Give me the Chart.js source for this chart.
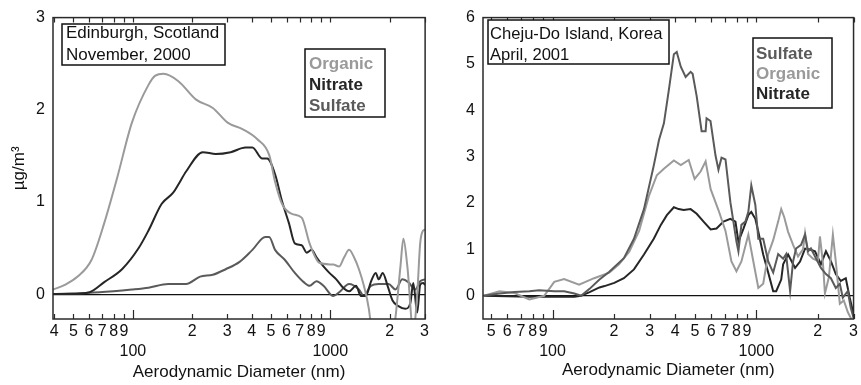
<!DOCTYPE html>
<html>
<head>
<meta charset="utf-8">
<script src="https://cdn.jsdelivr.net/npm/chart.js@4"></script>
<style>
  body { margin: 0; background: #fff; }
  .panel { position: absolute; top: 0; height: 385px; }
</style>
</head>
<body>
<div class="panel" style="left:0;width:432px"><canvas id="edinChart"></canvas></div>
<div class="panel" style="left:431px;width:430px"><canvas id="chejuChart"></canvas></div>
<script>
// ---------------- DATA (diameter in nm, mass in ug/m3) ----------------
// Edinburgh, November 2000
var edinOrganicD = [39.4, 45.2, 52.5, 61.7, 71.6, 83.2, 98.9, 120, 130, 143, 170, 209, 254, 302, 359, 427, 490, 525, 569, 638,
                    716, 785, 881, 1035, 1109, 1175, 1245, 1318, 1396, 1479, 1567, 1660, 1905, 2138, 2265, 2344, 2455, 2630, 2754, 2851, 2951, 3020];
var edinOrganic  = [0.05, 0.10, 0.19, 0.37, 0.77, 1.26, 1.86, 2.27, 2.37, 2.39, 2.31, 2.11, 2.02, 1.86, 1.79, 1.68, 1.51, 1.22, 0.98, 0.87,
                    0.83, 0.55, 0.34, 0.32, 0.30, 0.40, 0.48, 0.40, 0.27, 0.09, -0.16, -0.6, -0.9, -0.25, 0.3, 0.6, 0.3, -0.4, 0.0, 0.55, 0.69, 0.7];

var edinNitrateD = [39.4, 47.9, 60.3, 71.6, 88.1, 107, 120, 140, 160, 170, 186, 226, 263, 313, 372, 403, 452, 479, 525, 569,
                    617, 661, 716, 759, 804, 851, 923, 989, 1072, 1161, 1245, 1349, 1429, 1514, 1603, 1698, 1758, 1841, 1950, 2065,
                    2213, 2399, 2541, 2630, 2754, 2851, 2951, 3020];
var edinNitrate  = [0.0, 0.0, 0.02, 0.13, 0.27, 0.50, 0.69, 0.98, 1.10, 1.19, 1.33, 1.54, 1.52, 1.54, 1.59, 1.59, 1.47, 1.47, 1.30, 1.01,
                    0.77, 0.55, 0.53, 0.45, 0.48, 0.40, 0.30, 0.23, 0.16, 0.07, 0.03, 0.09, -0.02, -0.02, 0.13, 0.23, 0.16, 0.23, 0.09, -0.07,
                    -0.13, -0.16, -0.10, 0.12, -0.20, 0.10, 0.12, 0.10];

var edinSulfateD = [39.4, 67.6, 98.9, 120, 151, 186, 219, 254, 295, 347, 403, 468, 490, 525, 589, 661, 733, 785, 851, 923,
                    1035, 1109, 1245, 1396, 1479, 1603, 1758, 1972, 2138, 2317, 2483, 2692, 2851, 3020];
var edinSulfate  = [0.0, 0.02, 0.05, 0.07, 0.11, 0.11, 0.19, 0.21, 0.27, 0.35, 0.48, 0.62, 0.62, 0.48, 0.37, 0.23, 0.13, 0.09, 0.14, 0.09,
                    -0.02, 0.02, 0.11, 0.05, -0.02, 0.09, 0.11, 0.11, 0.05, 0.16, 0.13, 0.05, 0.14, 0.16];

// Cheju-Do Island, April 2001
var chejuSulfateD = [46, 55, 65, 77, 86, 102, 114, 128, 138, 152, 170, 190, 224, 251, 281, 314, 333, 352, 372, 394,
                     407, 426, 450, 476, 487, 510, 539, 564, 570, 596, 631, 652, 675, 706, 746, 772, 799, 817, 845, 884,
                     914, 945, 989, 1023, 1081, 1144, 1210, 1280, 1354, 1400, 1465, 1515, 1567, 1658, 1734, 1794, 1854, 1962, 2075, 2196,
                     2322, 2455, 2569, 2657, 2811, 2906, 3000];
var chejuSulfate  = [0.0, 0.05, 0.08, 0.1, 0.12, 0.1, 0.1, 0.05, 0.0, 0.15, 0.35, 0.52, 0.81, 1.23, 1.87, 2.81, 3.36, 3.72, 4.43, 5.21,
                     5.26, 4.94, 4.72, 4.83, 4.79, 4.3, 3.55, 3.55, 3.83, 3.77, 3.02, 2.72, 2.98, 2.94, 2.02, 1.6, 1.17, 0.96, 1.53, 1.6,
                     1.81, 2.38, 1.96, 1.23, 1.23, 0.74, 0.5, 0.9, 0.8, 0.9, 0.1, 0.74, 1.02, 1.1, 1.32, 0.96, 1.02, 0.81, 0.6, 0.47,
                     0.38, 0.17, 0.26, -0.04, 0.1, -0.26, -0.47];

var chejuOrganicD = [46, 55, 65, 77, 91, 102, 114, 135, 160, 190, 212, 238, 266, 297, 325, 352, 394, 426, 466, 498,
                     533, 564, 597, 652, 706, 755, 799, 845, 914, 967, 1023, 1081, 1144, 1210, 1280, 1325, 1370, 1432, 1515, 1603,
                     1695, 1734, 1794, 1897, 2006, 2052, 2123, 2171, 2270, 2375, 2455, 2569, 2687, 2811, 3000];
var chejuOrganic  = [0.0, 0.1, 0.06, -0.08, 0.0, 0.3, 0.36, 0.24, 0.38, 0.5, 0.68, 0.95, 1.4, 2.15, 2.6, 2.74, 2.92, 2.82, 2.93, 2.52,
                     2.68, 2.9, 2.3, 1.85, 1.4, 0.74, 0.53, 0.74, 1.32, 0.74, 0.17, 0.26, 0.9, 1.2, 1.6, 1.87, 1.7, 1.38, 1.1, 0.85,
                     1.0, 1.35, 0.9, 0.8, 0.75, 1.28, 0.7, 0.05, 0.4, 1.32, 0.74, -0.17, -0.1, -0.35, -0.6];

var chejuNitrateD = [46, 77, 128, 138, 152, 170, 180, 201, 224, 251, 281, 314, 340, 364, 394, 416, 440, 476, 510, 551,
                     597, 638, 690, 746, 790, 817, 865, 914, 945, 989, 1023, 1081, 1144, 1210, 1252, 1325, 1354, 1432, 1549, 1639,
                     1734, 1834, 1941, 2075, 2196, 2322, 2455, 2598, 2748, 2873, 3000];
var chejuNitrate  = [0.0, -0.02, -0.02, 0.0, 0.08, 0.18, 0.21, 0.28, 0.38, 0.57, 0.89, 1.23, 1.53, 1.74, 1.91, 1.87, 1.85, 1.87, 1.77, 1.6,
                     1.43, 1.45, 1.6, 1.66, 1.6, 1.17, 1.45, 1.74, 1.81, 1.66, 1.38, 0.89, 0.5, 0.1, 0.1, 0.35, 0.68, 0.89, 0.6, 0.74,
                     1.02, 1.0, 0.96, 0.68, 0.96, 0.75, 0.47, 0.32, 0.38, -0.04, -0.4];

// tick values on the log axes
var edinTicks  = [40, 50, 60, 70, 80, 90, 100, 200, 300, 400, 500, 600, 700, 800, 900, 1000, 2000, 3000];
var chejuTicks = [50, 60, 70, 80, 90, 100, 200, 300, 400, 500, 600, 700, 800, 900, 1000, 2000, 3000];
var edinYTicks  = [0, 1, 2, 3];
var chejuYTicks = [0, 1, 2, 3, 4, 5, 6];

var edinSite  = ["Edinburgh, Scotland", "November, 2000"];
var chejuSite = ["Cheju-Do Island, Korea", "April, 2001"];

// ---------------- STYLE ----------------
var COLORS = { Organic: '#9a9a9a', Nitrate: '#262626', Sulfate: '#5a5a5a' };
var FONT = "'Liberation Sans', Arial, Helvetica, sans-serif";
Chart.defaults.font.family = FONT;
Chart.defaults.color = '#111';

// ---------------- HELPERS ----------------
function toPoints(d, v) {
    var pts = [];
    for (var i = 0; i < d.length; i++) pts.push({x: d[i], y: v[i]});
    return pts;
}

function makeSet(name, d, v, smooth) {
    return {
        label: name,
        data: toPoints(d, v),
        borderColor: COLORS[name],
        borderWidth: 2,
        pointRadius: 0,
        fill: false,
        tension: 0,
        cubicInterpolationMode: smooth ? 'monotone' : 'default'
    };
}

function tickLabel(v) {
    if (v === 100 || v === 1000) return ['', String(v)];
    return String(v).charAt(0);
}

// frame, inward tick marks and the two text boxes
var framePlugin = {
    id: 'frame',
    afterDraw: function(chart, args, opts) {
        var ctx = chart.ctx, a = chart.chartArea, xs = chart.scales.x;
        ctx.save();
        ctx.strokeStyle = '#2a2a2a';
        ctx.lineWidth = 1.5;
        ctx.strokeRect(a.left, a.top, a.right - a.left, a.bottom - a.top);
        ctx.lineWidth = 1.2;
        xs.ticks.forEach(function(t) {
            var px = Math.round(xs.getPixelForValue(t.value)) + 0.5;
            var len = (t.value === 100 || t.value === 1000) ? 9 : 5;
            ctx.beginPath();
            ctx.moveTo(px, a.bottom); ctx.lineTo(px, a.bottom - len);
            ctx.moveTo(px, a.top); ctx.lineTo(px, a.top + 5);
            ctx.stroke();
        });
        opts.boxes.forEach(function(b) {
            ctx.fillStyle = '#fff';
            ctx.fillRect(b.x, b.y, b.w, b.h);
            ctx.strokeStyle = '#111';
            ctx.lineWidth = 1.5;
            ctx.strokeRect(b.x, b.y, b.w, b.h);
            ctx.textBaseline = 'alphabetic';
            ctx.textAlign = 'left';
            b.lines.forEach(function(ln, i) {
                ctx.font = (ln.bold ? 'bold ' : '') + (b.size || 17) + 'px ' + FONT;
                ctx.fillStyle = ln.color;
                ctx.fillText(ln.text, b.tx, b.base + i * b.step);
            });
        });
        ctx.restore();
    }
};

function legendLines(sets) {
    return sets.map(function(s) { return {text: s.label, color: s.borderColor, bold: true}; });
}

function siteLines(site) {
    return site.map(function(t) { return {text: t, color: '#111', bold: false}; });
}

function drawChart(id, sets, xTicks, xMin, xMax, yTicks, yMin, yMax, opts) {
    new Chart(document.getElementById(id), {
        type: 'line',
        data: { datasets: sets },
        options: {
            responsive: true,
            maintainAspectRatio: false,
            animation: false,
            layout: { padding: { top: 13, right: opts.padRight, left: 0, bottom: 0 } },
            plugins: {
                legend: { display: false },
                tooltip: { enabled: false },
                frame: { boxes: opts.boxes }
            },
            scales: {
                x: {
                    type: 'logarithmic',
                    min: xMin,
                    max: xMax,
                    afterBuildTicks: function(scale) {
                        scale.ticks = xTicks.map(function(v) { return {value: v}; });
                    },
                    afterFit: function(scale) { scale.height = 66; },
                    grid: { display: false, drawTicks: false },
                    border: { display: false },
                    ticks: {
                        autoSkip: false,
                        maxRotation: 0,
                        padding: 3,
                        font: { size: 16, lineHeight: 1.25 },
                        callback: function(v) { return tickLabel(v); }
                    },
                    title: {
                        display: true,
                        text: 'Aerodynamic Diameter (nm)',
                        font: { size: 17 },
                        padding: { top: 0, bottom: opts.titlePad }
                    }
                },
                y: {
                    min: yMin,
                    max: yMax,
                    afterBuildTicks: function(scale) {
                        scale.ticks = yTicks.map(function(v) { return {value: v}; });
                    },
                    afterFit: function(scale) { scale.width = opts.yWidth; },
                    grid: {
                        drawTicks: false,
                        lineWidth: 1.2,
                        color: function(c) { return (c.tick && c.tick.value === 0) ? '#111' : 'rgba(0,0,0,0)'; }
                    },
                    border: { display: false },
                    ticks: { padding: 8, font: { size: 16 } },
                    title: {
                        display: !!opts.yTitle,
                        text: opts.yTitle || '',
                        font: { size: 17 },
                        padding: { top: 9, bottom: 0 }
                    }
                }
            }
        },
        plugins: [framePlugin]
    });
}

// ---------------- CHARTS ----------------
var edinSets = [
    makeSet('Organic', edinOrganicD, edinOrganic, true),
    makeSet('Nitrate', edinNitrateD, edinNitrate, true),
    makeSet('Sulfate', edinSulfateD, edinSulfate, true)
];
drawChart('edinChart', edinSets, edinTicks, 39.4, 3020, edinYTicks, -0.27, 3, {
    padRight: 2, yWidth: 53, titlePad: 2, yTitle: 'µg/m³',
    boxes: [
        {x: 62, y: 24, w: 163, h: 41, tx: 66, base: 38, step: 22, lines: siteLines(edinSite)},
        {x: 305, y: 49, w: 80, h: 68, tx: 309, base: 69, step: 21, lines: legendLines(edinSets)}
    ]
});

var chejuSets = [
    makeSet('Sulfate', chejuSulfateD, chejuSulfate, false),
    makeSet('Organic', chejuOrganicD, chejuOrganic, false),
    makeSet('Nitrate', chejuNitrateD, chejuNitrate, false)
];
drawChart('chejuChart', chejuSets, chejuTicks, 45.6, 3000, chejuYTicks, -0.5, 6, {
    padRight: 5, yWidth: 52, titlePad: 4, yTitle: '',
    boxes: [
        {x: 57, y: 20, w: 181, h: 44, tx: 59, base: 39, step: 21, size: 16.6, lines: siteLines(chejuSite)},
        {x: 322, y: 38, w: 79, h: 70, tx: 325, base: 59, step: 20, lines: legendLines(chejuSets)}
    ]
});
</script>
</body>
</html>
